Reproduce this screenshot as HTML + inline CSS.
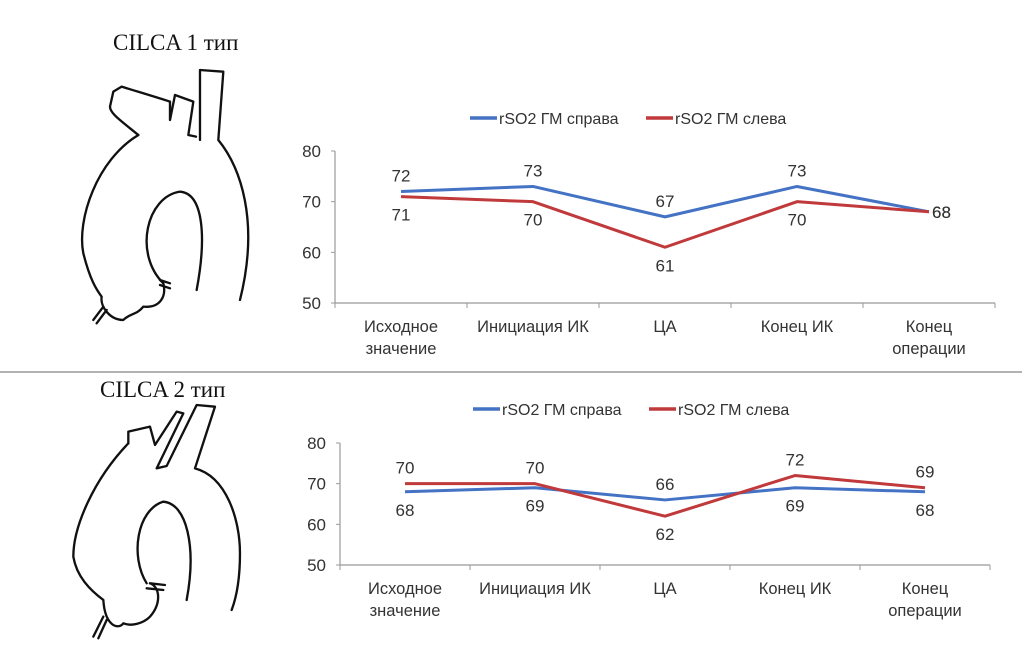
<!DOCTYPE html>
<html><head><meta charset="utf-8">
<style>
body{margin:0;background:#fff;width:1034px;height:666px;overflow:hidden;font-family:"Liberation Sans","DejaVu Sans",sans-serif;}
svg text{font-family:"Liberation Sans","DejaVu Sans",sans-serif;}
.t{font-family:"Liberation Serif",serif;}
</style></head>
<body>
<svg id="s" width="1034" height="666" viewBox="0 0 1034 666" xmlns="http://www.w3.org/2000/svg">
<text class="t" x="113" y="50" font-size="23" fill="#111">CILCA 1 тип</text>
<text class="t" x="100" y="397" font-size="23" fill="#111">CILCA 2 тип</text>
<line x1="0" y1="372" x2="1022" y2="372" stroke="#999" stroke-width="1.5"/>
<g transform="translate(60,20) scale(0.3333)" fill="none" stroke="#111" stroke-width="7" stroke-linecap="round" stroke-linejoin="round">
<path d="M235 345 C180 300 150 280 150 260 L160 215 L185 200 C250 220 300 235 330 245 L330 300 M330 300 L345 225 L400 245 L385 345 L408 350 M420 360 L420 150 L490 155 L475 360 C540 440 600 600 540 840"/>
<path d="M235 345 C110 420 50 600 70 700 C90 780 110 810 125 830 C120 860 150 900 190 900 C210 880 230 885 250 860 C300 865 320 830 310 790"/>
<path d="M410 810 C440 650 430 520 360 515 C260 530 220 700 310 790"/>
<path d="M100 900 L130 860 M110 910 L140 870 M300 780 L330 790 M300 795 L330 805"/>
</g>
<g transform="translate(40,370) scale(0.3333)" fill="none" stroke="#111" stroke-width="7" stroke-linecap="round" stroke-linejoin="round">
<path d="M265 220 L265 185 L330 170 L345 225 L410 125 L430 130 L350 295 L380 288 L470 105 L525 110 L465 295 C560 320 600 450 600 550 C600 620 590 680 575 720"/>
<path d="M265 220 C160 330 100 470 100 560 C110 620 150 660 190 690 C195 770 235 780 250 760 C275 770 310 760 330 740 C365 700 360 650 330 640"/>
<path d="M440 690 C470 530 440 400 370 395 C290 420 270 560 320 640"/>
<path d="M160 800 L190 740 M175 805 L200 750 M330 640 L375 645 M320 655 L370 660"/>
</g>
<g id="charts"></g>
</svg>
<script>
const categories=[["Исходное","значение"],["Инициация ИК"],["ЦА"],["Конец ИК"],["Конец","операции"]];
const yTicks=[50,60,70,80];
const right1=[72,73,67,73,68];
const left1=[71,70,61,70,68];
const right2=[68,69,66,69,68];
const left2=[70,70,62,72,69];
// label placement: 1 = above, -1 = below, 0 = right
const rightPos1=[1,1,1,1,0];
const leftPos1=[-1,-1,-1,-1,0];
const rightPos2=[-1,-1,1,-1,-1];
const leftPos2=[1,1,-1,1,1];
const NS="http://www.w3.org/2000/svg";
const root=document.getElementById('charts');
function mk(tag,attrs,parent){const e=document.createElementNS(NS,tag);for(const k in attrs)e.setAttribute(k,attrs[k]);(parent||root).appendChild(e);return e;}
function chart(cfg){
  const g=mk('g',{});
  
  
  const x0=cfg.x0,x1=cfg.x1,yTop=cfg.yTop,yBot=cfg.yBot;
  const step=(x1-x0)/categories.length;
  const xs=i=>x0+step*(i+0.5);
  const ys=v=>yBot-(v-50)/30*(yBot-yTop);
  const lg=mk('g',{},g);
  
  
  const ly=cfg.legendY;
  const l1=mk('line',{x1:cfg.legX,y1:ly,x2:cfg.legX+27,y2:ly,stroke:'#4472C4','stroke-width':3.5},lg);
  
  
  const t1=mk('text',{x:cfg.legX+29,y:ly+6,'font-size':16,fill:'#333'},lg);t1.textContent='rSO2 ГМ справа';
  
  
  const l2=mk('line',{x1:cfg.legX+176,y1:ly,x2:cfg.legX+203,y2:ly,stroke:'#C0393B','stroke-width':3.5},lg);
  
  
  const t2=mk('text',{x:cfg.legX+205,y:ly+6,'font-size':16,fill:'#333'},lg);t2.textContent='rSO2 ГМ слева';
  
  
  const ya=mk('line',{x1:x0,y1:yTop,x2:x0,y2:yBot,stroke:'#999','stroke-width':1.2},g);
  
  
  const xa=mk('line',{x1:x0,y1:yBot,x2:x1,y2:yBot,stroke:'#999','stroke-width':1.2},g);
  
  
  yTicks.forEach(v=>{
    const tk=mk('line',{x1:x0-4,y1:ys(v),x2:x0,y2:ys(v),stroke:'#999'},g);
    
    
    const t=mk('text',{x:x0-14,y:ys(v)+6,'font-size':17,fill:'#333','text-anchor':'end'},g);t.textContent=v;
    
    
  });
  for(let i=0;i<=categories.length;i++){
    const tk=mk('line',{x1:x0+step*i,y1:yBot,x2:x0+step*i,y2:yBot+5,stroke:'#999'},g);
    
    
  }
  categories.forEach((c,i)=>{
    const t=mk('text',{x:xs(i),y:yBot+29,'font-size':16.5,fill:'#333','text-anchor':'middle'},g);
    
    
    c.forEach((ln,j)=>{const ts=mk('tspan',{x:xs(i),dy:j?22:0},t);ts.textContent=ln;});
  });
  function series(vals,pos,color,name){
    const p=mk('polyline',{points:vals.map((v,i)=>xs(i)+','+ys(v)).join(' '),fill:'none',stroke:color,'stroke-width':3,'stroke-linejoin':'round'},g);
    
    
    vals.forEach((v,i)=>{
      let tx=xs(i),ty,anchor='middle';
      if(pos[i]===1)ty=ys(v)-10;else if(pos[i]===-1)ty=ys(v)+24;else{tx=xs(i)+3;ty=ys(v)+6;anchor='start';}
      const t=mk('text',{x:tx,y:ty,'font-size':17,fill:'#333','text-anchor':anchor},g);t.textContent=v;
      
      
    });
  }
  series(cfg.right,cfg.rightPos,'#4472C4','line-rso2-right');
  series(cfg.left,cfg.leftPos,'#C0393B','line-rso2-left');
}
chart({name:'chart-cilca-1',x0:335,x1:995,yTop:151,yBot:303,legendY:118,legX:470,right:right1,left:left1,rightPos:rightPos1,leftPos:leftPos1});
chart({name:'chart-cilca-2',x0:340,x1:990,yTop:443,yBot:565,legendY:409,legX:473,right:right2,left:left2,rightPos:rightPos2,leftPos:leftPos2});
</script>
</body></html>
